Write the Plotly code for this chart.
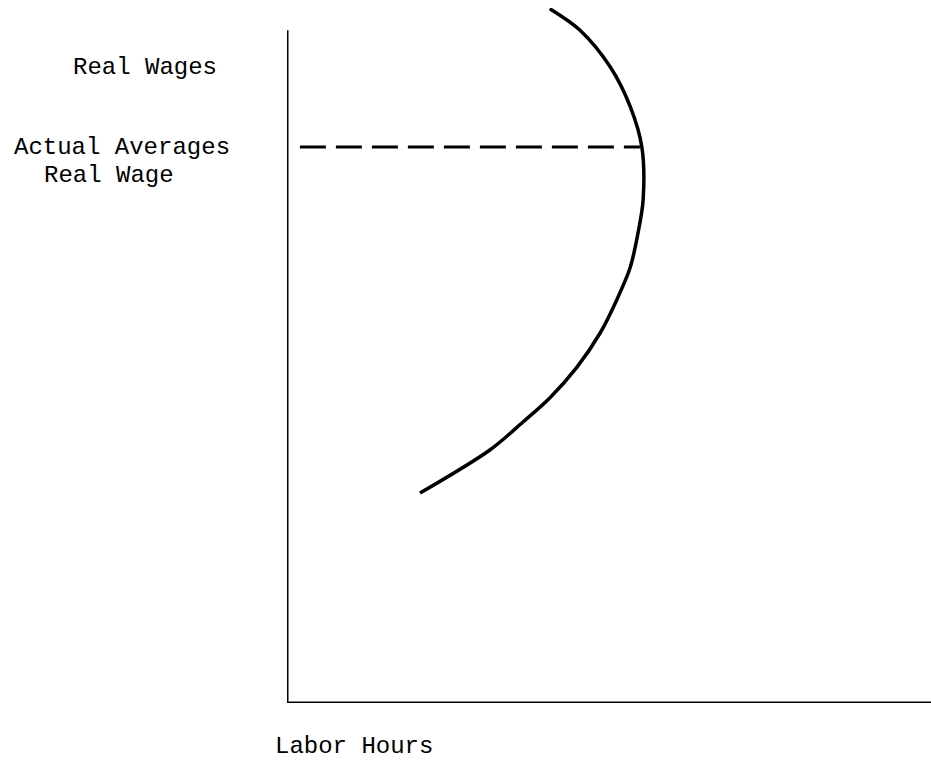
import plotly.graph_objects as go

# Curve (labor supply), in arbitrary units (0-100)
curve_hours = [20.65, 31.5, 36.6, 40.8, 45.0, 48.6, 51.2, 53.3, 54.5, 55.3, 55.1, 53.3, 50.2, 45.5, 40.8]
curve_wages = [30.2, 36.4, 40.4, 43.9, 48.3, 53.2, 58.0, 62.7, 67.6, 72.4, 80.0, 85.8, 91.5, 96.8, 99.9]

# Dashed line at the actual average real wage
avg_wage = 80.0
dash_hours = [2.0, 54.8]

y_axis_top = 96.8

FONT = "Liberation Mono, Courier New, monospace"

fig = go.Figure()
fig.add_trace(go.Scatter(
    x=curve_hours, y=curve_wages, mode="lines",
    line=dict(color="black", width=3.5, shape="spline", smoothing=0.9),
    cliponaxis=False, showlegend=False, hoverinfo="skip"))
fig.add_trace(go.Scatter(
    x=dash_hours, y=[avg_wage, avg_wage], mode="lines",
    line=dict(color="black", width=3, dash="26px,10px"),
    cliponaxis=False, showlegend=False, hoverinfo="skip"))

# Axis lines
fig.add_shape(type="line", xref="x", yref="y", x0=0, x1=0, y0=0, y1=y_axis_top,
              line=dict(color="black", width=3))
fig.add_shape(type="line", xref="x", yref="y", x0=-0.3, x1=100, y0=0, y1=0,
              line=dict(color="black", width=3))

labels = [
    ("Real Wages", -0.2205, 0.9137),
    ("Actual Averages", -0.2562, 0.7986),
    ("Real Wage", -0.2764, 0.7597),
    ("Labor Hours", 0.104, -0.0619),
]
for txt, xp, yp in labels:
    fig.add_annotation(text=txt, xref="paper", yref="paper", x=xp, y=yp,
                       xanchor="center", yanchor="middle", showarrow=False,
                       font=dict(family=FONT, size=24, color="black"))

fig.update_layout(
    width=931, height=761,
    margin=dict(l=287, r=0, t=8, b=58),
    paper_bgcolor="white", plot_bgcolor="white",
    xaxis=dict(range=[0, 100], visible=False, fixedrange=True),
    yaxis=dict(range=[0, 100], visible=False, fixedrange=True),
)

fig.write_html(
    "out.html",
    config={"displayModeBar": False, "staticPlot": True},
    post_script="document.body.style.margin='0';document.body.style.overflow='hidden';",
)
